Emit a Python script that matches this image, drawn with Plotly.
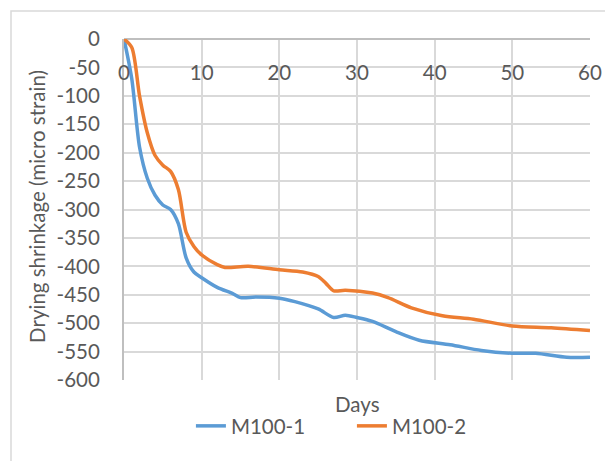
import plotly.graph_objects as go

days_1 = [0, 1, 2, 3, 4, 5, 6, 7, 8, 9, 10, 12, 14, 15, 17, 20, 22, 25, 27, 28.5, 30, 32, 35, 38, 42, 46, 50, 53, 57, 60]
m100_1 = [0, -70, -190, -245, -275, -292, -300, -325, -385, -410, -420, -437, -448, -455, -454, -456, -462, -475, -490, -486, -490, -497, -515, -530, -538, -548, -553, -553, -560, -560]

days_2 = [0, 1, 2, 3, 4, 5, 6, 7, 8, 9, 10, 12, 13, 16, 20, 23, 25, 26, 27, 28.5, 32, 34, 37, 41, 45, 50, 55, 60]
m100_2 = [0, -15, -100, -165, -205, -222, -233, -265, -340, -365, -380, -397, -402, -400, -406, -410, -418, -430, -443, -442, -447, -455, -473, -487, -493, -505, -508, -513]

x_ticks = [0, 10, 20, 30, 40, 50, 60]
y_ticks = list(range(-600, 1, 50))

FONT = "Lato"
GRAY = "#595959"
GRID = "#D9D9D9"
FS = 20.5

fig = go.Figure()
fig.add_trace(go.Scatter(x=days_1, y=m100_1, mode="lines", name="M100-1",
                         line=dict(color="#5B9BD5", width=3.5, shape="spline", smoothing=0.8)))
fig.add_trace(go.Scatter(x=days_2, y=m100_2, mode="lines", name="M100-2",
                         line=dict(color="#ED7D31", width=3.5, shape="spline", smoothing=0.8)))

fig.update_layout(
    width=605, height=453,
    margin=dict(l=116, r=23, t=31, b=81, autoexpand=False),
    paper_bgcolor="white", plot_bgcolor="white",
    font=dict(family=FONT, size=FS, color=GRAY),
    showlegend=True,
    legend=dict(orientation="h", x=0.1436, xanchor="left", y=-0.135, yanchor="middle",
                entrywidth=116, entrywidthmode="pixels",
                font=dict(size=FS, color=GRAY), bgcolor="rgba(0,0,0,0)"),
    xaxis=dict(range=[0, 60], tickvals=x_ticks, ticktext=[str(v) for v in x_ticks],
               anchor="free", position=0.944, side="bottom",
               showgrid=True, gridcolor=GRID, gridwidth=2,
               showline=False, zeroline=False, ticks="", automargin=False),
    yaxis=dict(range=[-600, 0], tickvals=y_ticks, ticktext=[str(v) for v in y_ticks],
               showgrid=True, gridcolor=GRID, gridwidth=2,
               showline=True, linecolor="#BFBFBF", linewidth=2,
               zeroline=True, zerolinecolor="#BFBFBF", zerolinewidth=2,
               ticks="outside", ticklen=18, tickcolor="rgba(0,0,0,0)", automargin=False),
    annotations=[
        dict(text="Days", xref="paper", yref="paper", x=0.5, y=-0.070,
             xanchor="center", yanchor="middle", showarrow=False,
             font=dict(size=FS, color=GRAY)),
        dict(text="Drying shrinkage (micro strain)", xref="paper", yref="paper",
             x=-0.187, y=0.51, textangle=-90, xanchor="center", yanchor="middle",
             showarrow=False, font=dict(size=FS, color=GRAY)),
    ],
    shapes=[dict(type="rect", xref="paper", yref="paper", x0=-0.2425, x1=1.1, y0=-0.3, y1=1.082,
                 line=dict(color=GRID, width=1.5), fillcolor="rgba(0,0,0,0)", layer="above")],
)

fig.write_html("out.html")
